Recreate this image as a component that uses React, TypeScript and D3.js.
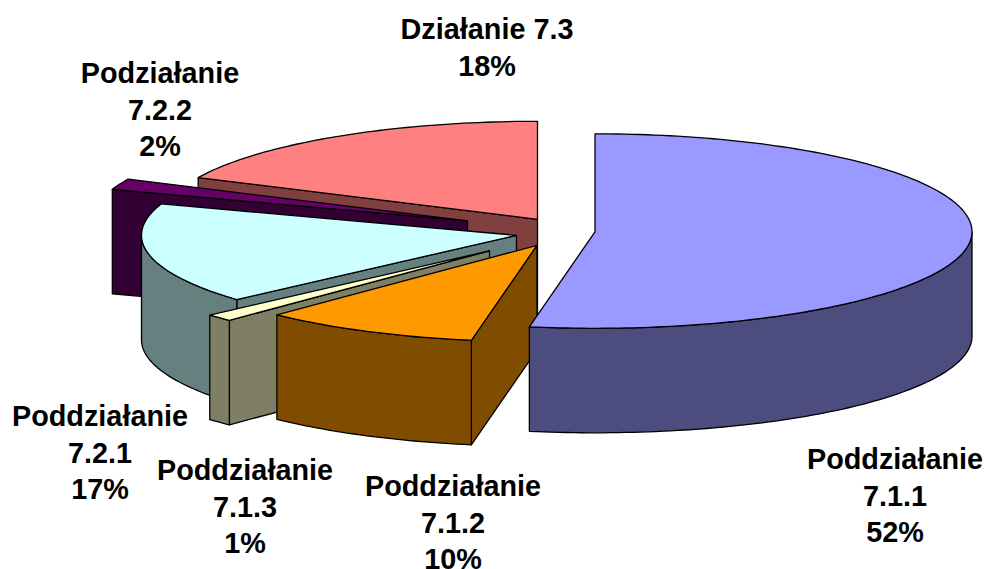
import React from 'react';
import * as d3 from 'd3';

const categories = ['Poddziałanie 7.1.1', 'Poddziałanie 7.1.2', 'Poddziałanie 7.1.3', 'Poddziałanie 7.2.1', 'Podziałanie 7.2.2', 'Działanie 7.3'];
// slice sizes (the 3d view skews them a bit from the printed percents)
const shares = [52.8, 9.4, 1.2, 16.8, 1.8, 18.0];
const percents = ['52%', '10%', '1%', '17%', '2%', '18%'];
const topColors = ['#9999FF', '#FF9900', '#FFFFCC', '#CCFFFF', '#660066', '#FF8080'];
const sideColors = ['#4C4C7F', '#7F4C00', '#7F7F66', '#667F7F', '#330033', '#804040'];

// how far each slice is pulled out of the pie, px
const pullX = [39.5, -18.5, -66, -39, -88, -18];
const pullY = [1.5, 15, 20.5, 5, -9.5, -11];

// label layout: centre x, first baseline y, one per category
const labelX = [895, 453, 245, 100, 160, 487];
const labelY = [469, 496, 480, 426, 83, 39];

const width = 984;
const height = 569;
const cx = 555.5;
const cy = 230.3;
const rxLeft = 375;
const rxRight = 377;
const ryBack = 98;
const ryFront = 96.5;
const depth = 104.5;
const lineGap = 36.7;

type P = [number, number];

const arcs = d3.pie<number>().sort(null).value((d) => d)(shares);
const line = d3.line<P>();

// the view is slightly in perspective, so the ellipse is not quite symmetric
const rimX = d3.scaleLinear().domain([-1, 0, 1]).range([-rxLeft, 0, rxRight]);
const rimY = d3.scaleLinear().domain([-1, 0, 1]).range([-ryBack, 0, ryFront]);

function rim(ox: number, oy: number, a0: number, a1: number): P[] {
  const n = Math.max(2, Math.ceil((a1 - a0) / 0.02));
  return d3.range(n + 1).map((i) => {
    const a = a0 + ((a1 - a0) * i) / n;
    return [ox + rimX(Math.sin(a)), oy + rimY(-Math.cos(a))] as P;
  });
}

const down = (pts: P[]): P[] => pts.map(([x, y]) => [x, y + depth] as P);

function Slice({ index }: { index: number }) {
  const { startAngle, endAngle } = arcs[index];
  const ox = cx + pullX[index];
  const oy = cy + pullY[index];
  const apex: P = [ox, oy];
  const top = rim(ox, oy, startAngle, endAngle);

  const wall = (a: number) => {
    const edge: P[] = [apex, rim(ox, oy, a, a + 0.001)[0]];
    return line([...edge, ...down(edge).reverse()]) + 'Z';
  };

  // outer skin only shows on the front half of the ellipse
  const from = Math.max(startAngle, Math.PI / 2);
  const to = Math.min(endAngle, (3 * Math.PI) / 2);
  const skin = from < to ? rim(ox, oy, from, to) : null;

  const common = { stroke: '#000', strokeWidth: 1.3, strokeLinejoin: 'round' as const };
  return (
    <g>
      {Math.sin(startAngle) < -0.001 && <path d={wall(startAngle)} fill={sideColors[index]} {...common} />}
      {Math.sin(endAngle) > 0.001 && <path d={wall(endAngle)} fill={sideColors[index]} {...common} />}
      {skin && <path d={line([...skin, ...down(skin).reverse()]) + 'Z'} fill={sideColors[index]} {...common} />}
      <path d={line([apex, ...top]) + 'Z'} fill={topColors[index]} {...common} />
    </g>
  );
}

function labelLines(i: number) {
  const parts = categories[i].split(' ');
  // "Działanie 7.3" stays on one line in the original
  return i === 5 ? [categories[i], percents[i]] : [parts[0], parts[1], percents[i]];
}

export default function App() {
  // back to front: the slices behind are painted first
  const order = [5, 4, 3, 2, 1, 0];
  return (
    <svg
      width={width}
      height={height}
      viewBox={`0 0 ${width} ${height}`}
      style={{ position: 'absolute', left: 0, top: 0, background: '#fff' }}
    >
      {order.map((i) => (
        <Slice key={categories[i]} index={i} />
      ))}
      {categories.map((c, i) => (
        <text
          key={c}
          textAnchor="middle"
          fontFamily="'Liberation Sans', Arial, sans-serif"
          fontWeight="bold"
          fontSize={28.8}
          fill="#000"
        >
          {labelLines(i).map((t, j) => (
            <tspan key={j} x={labelX[i]} y={labelY[i] + j * lineGap}>
              {t}
            </tspan>
          ))}
        </text>
      ))}
    </svg>
  );
}
